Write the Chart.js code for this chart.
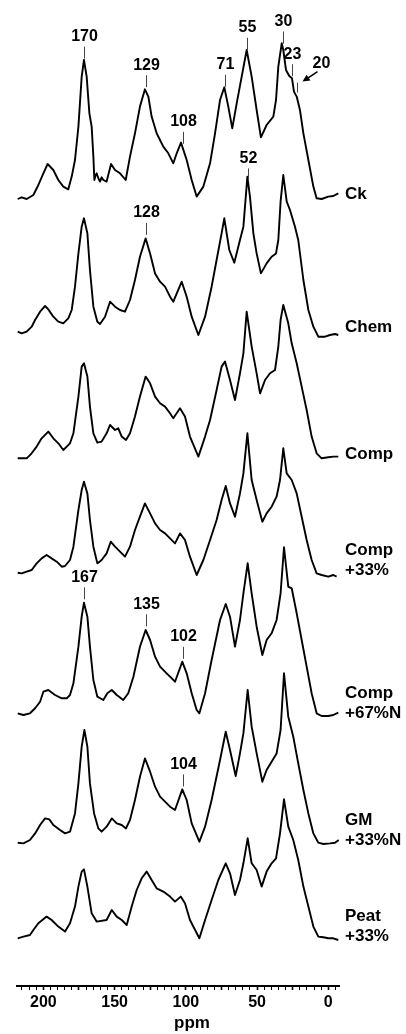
<!DOCTYPE html>
<html><head><meta charset="utf-8">
<script src="https://cdn.jsdelivr.net/npm/chart.js@4.4.1/dist/chart.umd.min.js"></script>
<style>html,body{margin:0;padding:0;background:#fff;}#wrap{position:relative;width:406px;height:1034px;}canvas{display:block;}</style>
</head><body><div id="wrap"><canvas id="c" width="406" height="1034"></canvas></div>
<script>
// ---- data (x = chemical shift in ppm, intensity in arbitrary units above each trace's baseline) ----
const seriesNames = ['Ck', 'Chem', 'Comp', 'Comp\n+33%', 'Comp\n+67%N', 'GM\n+33%N', 'Peat\n+33%'];
const baselines = [787.7, 654.3, 527.7, 413.3, 271, 143.3, 47.7];

const ckPpm = [218,215.2,211.7,207.0,203.5,200,197.0,193.0,189.5,186.0,182.5,180.1,177.8,175.4,173.1,171.5,169.6,167.7,166.1,164.9,164.2,163.3,162.6,161.4,160.2,159.1,157.9,155.6,152.5,149.7,146.2,142.2,139.2,135.7,132.2,128.7,126.3,124.0,120.5,115.8,112.3,108.8,106.4,103.4,99.4,95.9,92.4,87.7,83.0,79.5,76.0,73.0,70.2,67.4,64.3,60.8,57.3,53.8,50.3,47.3,43.3,38.6,36.7,35.1,32.7,31.6,29.7,27.4,25.5,24.1,22.2,19.9,17.5,14.0,10.5,8.2,4.7,0,-3.5,-7.0];
const ckInt = [-0.7,1.0,-0.7,3.3,13.3,25,34.3,28.3,18.3,11.7,9,21.7,38.3,71.7,121.7,138.3,121.7,85,71.7,41.7,18.3,23,25,20,16.7,21,18.3,16.7,34.3,28.3,25,18.3,41.7,65,91.7,109,101.7,81.7,65,51.7,45,35,45,55.7,38.3,18.3,1.7,11.7,35,65,98.3,111,91.7,70,95,121.7,148.3,121.7,88.3,61,73.3,81.7,98.3,131.7,155,148.3,128.3,122.3,120,106.7,101.7,88.3,65,38.3,11.7,0,-0.7,1.7,2.3,5];

const chemPpm = [218,215.2,211.7,208.2,205.8,202.3,198.8,196.5,193.0,189.5,186.0,182.5,180.1,177.8,175.4,173.1,171.5,169.1,167.3,164.9,162.1,160.2,156.7,153.2,149.7,146.2,142.7,139.2,135.7,132.2,128.2,125.1,121.6,118.1,114.6,111.1,108.8,102.9,99.4,95.9,91.2,86.5,81.9,78.4,74.9,73.0,69.5,66.0,62.0,59.6,56.8,55.0,52.6,50.3,47.3,43.3,39.8,36.7,35.1,33.5,31.6,29.2,26.9,23.4,21.1,17.5,14.0,10.5,7.0,2.3,-1.2,-4.7,-7.0];
const chemInt = [0,-1.7,0,5,11.7,20,25.7,22.3,15,10,8.3,13.3,21.7,45,78.3,105,113.4,98.3,61.7,25,10,7.7,15,30,25,21.7,20,31.7,51.7,75,93.3,78.3,58.3,50,45,35,30,50,35,15,-3.3,15,45,71.7,98.3,113.4,81.7,69,91.7,105,155,135,98.4,78.3,58.3,68.3,75,78.3,91.7,130,156.7,130,121.7,105,91.7,51.7,21.7,5,-5,-5,-3.3,-2.3,-3.3];

const compPpm = [218,211.7,208.2,204.7,201.2,196.5,193.0,189.5,186.0,183.6,181.3,178.9,175.4,173.1,171.5,169.1,167.3,164.9,162.1,159.1,155.6,153.2,149.7,147.4,145.0,142.0,139.2,135.7,132.2,128.2,125.1,121.6,118.1,114.6,111.1,108.8,104.1,100.6,97.1,91.2,86.5,83.0,78.4,74.9,72.5,69.0,65.5,62.0,59.6,57.3,53.8,50.3,47.9,44.4,40.9,37.4,35.1,33.5,31.6,28.1,25.7,22.2,18.7,15.2,11.7,8.2,4.7,0,-3.5,-7.0];
const compInt = [0,0,5,11.7,20,26.7,20,15,8.3,11.7,15,25,61.7,91.7,95,81.7,51.7,25,15.7,16.7,25,33.3,28.3,30,21.7,18.3,25,41.7,61.7,81.7,75,61.7,55,51.7,45,40,50,41.7,21.7,1.7,21.7,38.3,68.3,91.7,96.7,78.3,58.3,85,105,146.7,111.7,85,65,78.3,85,88.3,111.7,138.3,153.3,135,115,95,71.7,48.3,21.7,5,0,1,1.7,1.7];

const comp33Ppm = [218,215.2,211.7,208.2,204.7,201.2,197.7,194.2,190.6,187.1,184.8,181.3,178.9,175.4,173.1,171.5,169.1,167.3,164.9,162.1,159.1,155.6,152.7,149.7,146.2,142.7,139.2,135.7,132.2,128.7,125.1,121.6,118.1,114.6,111.1,107.6,104.1,100.6,97.1,92.4,87.7,83.0,78.4,74.9,72.0,69.0,65.5,62.0,59.6,56.8,53.8,50.3,46.3,43.3,39.8,36.3,33.9,31.6,29.2,25.7,22.2,18.7,15.2,11.7,8.2,4.7,0,-3.5,-5.8];
const comp33Int = [0,-0.7,1,2.7,9.3,14.3,17.7,14.3,11,6,6.7,12.7,26,62.7,82.7,91,79.3,52.7,26,9.3,12.7,19.3,31,26,21,16,26,42.7,56,69.3,59.3,49.3,42.7,39.3,34.3,29.3,39.3,32.7,16,-2.3,12.7,32.7,52.7,72.7,86.7,69.3,56,79.3,99.3,139.4,92.7,72.7,51,59.3,66,76,92.7,124.4,99.3,92.7,79.3,56,32.7,12.7,-0.7,-2.3,-4,-2.3,-4];

const comp67Ppm = [218,214.0,209.4,205.8,202.3,200,196.5,191.8,187.1,183.6,181.3,178.9,175.4,173.1,171.5,169.1,167.3,164.9,162.1,157.9,155.1,152.0,148.5,143.9,140.4,136.8,132.2,128.2,125.1,121.6,118.1,113.5,109.9,107.6,102.5,99.4,95.9,92.4,90.5,86.5,81.9,76.0,72.0,69.0,65.5,62.0,59.6,56.6,53.8,50.3,46.3,43.3,39.8,36.3,33.5,31.1,28.1,25.7,22.2,18.7,15.2,11.7,8.2,4.7,0,-3.5,-7.0];
const comp67Int = [1.7,0,1.7,6.7,13.3,23.3,25,20,16.7,16.7,20,31.7,68.3,98.3,112.3,98.3,68.3,35,18.3,15,21.7,25,20,15,21.7,38.3,68.3,85,75,58.3,48.3,41.7,36.7,33.3,53.3,41.7,21.7,5,1.7,21.7,55,95,111,98.3,68.3,95,121.7,151.7,121.7,88.3,60,75,81.7,95,121.7,167.7,128.3,126.7,101.7,75,48.3,21.7,1.7,-1,-1,0,2.3];

const gmPpm = [218,214.0,209.4,205.8,202.3,198.8,195.8,193.0,188.3,184.8,181.3,177.8,175.4,173.1,171.2,169.1,167.3,164.4,161.4,159.1,155.6,152.0,148.5,145.0,142.0,139.2,135.7,132.2,128.7,125.1,121.6,118.1,114.6,111.1,107.6,102.5,99.4,95.9,90.5,86.5,81.9,76.0,72.0,69.0,65.0,62.0,59.6,56.6,53.8,50.3,46.3,43.3,39.8,36.3,33.5,31.1,28.1,24.6,21.1,17.5,14.0,10.5,7.0,3.5,-1.2,-4.7,-7.3];
const gmInt = [0,-0.7,2.7,9.3,17.7,24.3,23.3,17.7,12.7,9.3,11,29.3,59.3,96,112.7,96,59.3,29.3,14.3,11,16,24.3,19.3,17.7,14.3,22.7,42.7,66,84.3,71,56,46,41,36,32.7,53.3,42.7,19.3,1,16,42.7,82.7,111,92.7,66.7,89.3,109.3,152.7,116,89.3,61,72.7,81,89.3,112.7,169.4,126,106,79.3,52.7,29.3,9.3,0,-1.3,-0.7,0,2.7];

const peatPpm = [218,214.0,209.4,207.0,203.5,197.7,194.2,189.5,184.8,181.3,177.8,175.4,173.1,171.5,169.1,166.1,162.6,155.6,152.0,148.5,145.0,141.5,138.0,134.5,131.0,127.5,124.0,120.5,115.8,111.1,107.6,103.6,100.6,97.1,90.5,86.5,81.9,77.2,72.0,69.0,65.5,62.0,59.6,56.6,53.8,50.3,46.8,43.3,39.8,36.7,33.9,31.1,28.1,24.6,21.1,17.5,14.0,10.5,7.0,3.5,0,-3.5,-7.0];
const peatInt = [0,1.7,3.3,8.3,15,21.7,18.3,11.7,6.7,15,31.7,51.7,66.7,69,51.7,25,16.7,18.3,28.3,21.7,18.3,13.3,31.7,48.3,60,66.7,58.3,50,46.7,41.7,36.7,41.7,35,18.3,0,18.3,38.3,58.3,75,65,43.3,58.3,75,100,75,68.3,51.7,66.7,75,80,105,139,111.7,98.3,78.3,51.7,31.7,11.7,1.7,1,0,0,-1.7];

// peak annotations: text, series index, ppm position
const peakText   = ['170','129','108','71','55','30','23','52','128','167','135','102','104'];
const peakSeries = [0,0,0,0,0,0,0,1,1,4,4,4,5];
const peakPpm    = [171.2,128.1,102.2,72.5,56.8,32.0,25.3,56.1,128.1,171.4,128.1,102.2,102.2];
const arrowText = '20', arrowSeries = 0, arrowPpm = 22.2;

const xTickLabels = [200, 150, 100, 50, 0];

// ---- build ----
const ppmSets = [ckPpm, chemPpm, compPpm, comp33Ppm, comp67Ppm, gmPpm, peatPpm];
const intSets = [ckInt, chemInt, compInt, comp33Int, comp67Int, gmInt, peatInt];

function valueAt(i, p) {
  const xs = ppmSets[i], ys = intSets[i];
  for (let k = 0; k < xs.length - 1; k++) {
    if ((xs[k] - p) * (xs[k + 1] - p) <= 0) {
      const t = (p - xs[k]) / (xs[k + 1] - xs[k] || 1);
      return baselines[i] + ys[k] + t * (ys[k + 1] - ys[k]);
    }
  }
  return baselines[i];
}

const datasets = ppmSets.map((xs, i) => ({
  label: seriesNames[i],
  data: xs.slice(0, Math.min(xs.length, intSets[i].length)).map((p, k) => ({ x: p, y: baselines[i] + intSets[i][k] })),
  borderColor: '#000',
  borderWidth: 1.9,
  borderJoinStyle: 'round',
  pointRadius: 0,
  fill: false,
  tension: 0
}));

const FONT = '"Liberation Sans", Arial, Helvetica, sans-serif';

const annot = {
  id: 'annot',
  afterDraw(chart) {
    const { ctx, chartArea, scales: { x, y } } = chart;
    ctx.save();
    ctx.fillStyle = '#000';
    ctx.textBaseline = 'middle';
    // right-hand trace names
    ctx.font = 'bold 17px ' + FONT;
    ctx.textAlign = 'left';
    seriesNames.forEach((name, i) => {
      const lines = name.split('\n');
      const by = y.getPixelForValue(baselines[i]);
      const lx = chartArea.right + 6;
      if (lines.length === 1) ctx.fillText(lines[0], lx, by - 4);
      else { ctx.fillText(lines[0], lx, by - 22); ctx.fillText(lines[1], lx, by - 2); }
    });
    // peak labels
    ctx.font = 'bold 16px ' + FONT;
    ctx.textAlign = 'center';
    ctx.strokeStyle = '#444';
    ctx.lineWidth = 1;
    peakText.forEach((t, j) => {
      const px = Math.round(x.getPixelForValue(peakPpm[j])) + 0.5;
      const py = y.getPixelForValue(valueAt(peakSeries[j], peakPpm[j]));
      const b = py - 4, top = b - 12;
      ctx.beginPath(); ctx.moveTo(px, b); ctx.lineTo(px, top); ctx.stroke();
      ctx.fillText(t, px, top - 10);
    });
    // arrow label
    {
      const px = Math.round(x.getPixelForValue(arrowPpm)) + 0.5;
      const py = y.getPixelForValue(valueAt(arrowSeries, arrowPpm));
      const b = py - 4, top = b - 10;
      ctx.beginPath(); ctx.moveTo(px, b); ctx.lineTo(px, top); ctx.stroke();
      const sx = px + 20, sy = top - 11, ex = px + 5, ey = top - 1;
      ctx.lineWidth = 1.6;
      ctx.strokeStyle = '#000';
      ctx.beginPath(); ctx.moveTo(sx, sy); ctx.lineTo(ex + 3, ey - 2); ctx.stroke();
      const ang = Math.atan2(ey - sy, ex - sx);
      ctx.beginPath();
      ctx.moveTo(ex, ey);
      ctx.lineTo(ex - 8 * Math.cos(ang - 0.45), ey - 8 * Math.sin(ang - 0.45));
      ctx.lineTo(ex - 8 * Math.cos(ang + 0.45), ey - 8 * Math.sin(ang + 0.45));
      ctx.closePath(); ctx.fill();
      ctx.fillText(arrowText, px + 24, top - 19);
    }
    // axis title
    ctx.font = 'bold 17px ' + FONT;
    ctx.textAlign = 'center';
    ctx.fillText('ppm', (chartArea.left + chartArea.right) / 2 + 14, chartArea.bottom + 37);
    ctx.restore();
  }
};

const minorTicks = [];
for (let v = 215; v >= -5; v -= 5) minorTicks.push(v);

new Chart(document.getElementById('c'), {
  type: 'line',
  data: { datasets },
  options: {
    responsive: false,
    animation: false,
    devicePixelRatio: 1,
    layout: { padding: { left: 17, right: 67, top: 0, bottom: 0 } },
    plugins: { legend: { display: false }, tooltip: { enabled: false } },
    scales: {
      x: {
        type: 'linear',
        reverse: true,
        min: -7.5,
        max: 218.5,
        afterBuildTicks: s => { s.ticks = minorTicks.map(v => ({ value: v })); },
        afterFit: s => { s.height = 48; },
        border: { display: true, color: '#000', width: 2 },
        grid: {
          drawOnChartArea: false,
          tickLength: 4,
          tickColor: '#000',
          tickWidth: c => (c.tick && c.tick.value % 25 === 0 ? 1.6 : 1)
        },
        ticks: {
          autoSkip: false,
          maxRotation: 0,
          padding: 3,
          color: '#000',
          font: { family: FONT, size: 16, weight: 'bold' },
          callback: v => (xTickLabels.includes(v) ? String(v) : '')
        }
      },
      y: { display: false, min: 0, max: 986 }
    }
  },
  plugins: [annot]
});
</script>
</body></html>
